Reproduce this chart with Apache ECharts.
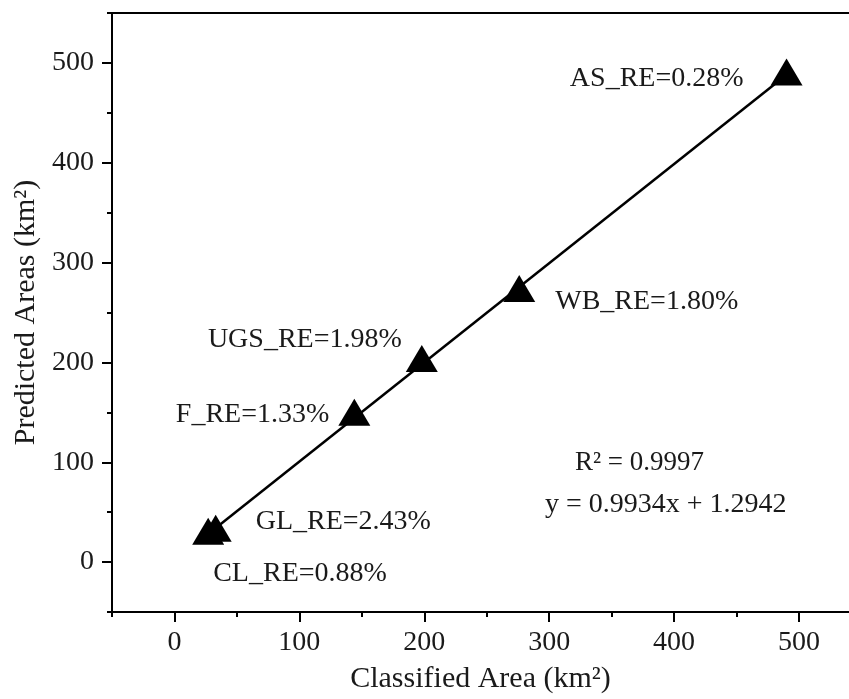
<!DOCTYPE html>
<html>
<head>
<meta charset="utf-8">
<script src="https://cdn.jsdelivr.net/npm/echarts@6/dist/echarts.min.js"></script>
<style>html,body{margin:0;padding:0;background:#fff}#c{width:849px;height:699px}</style>
</head>
<body>
<div id="c"></div>
<script>
// Data
const classes = ['CL', 'GL', 'F', 'UGS', 'WB', 'AS'];
const classified = [27, 33, 144, 198, 276, 490];
const predicted = [31, 34, 150, 204, 274, 491];
const reLabels = ['CL_RE=0.88%', 'GL_RE=2.43%', 'F_RE=1.33%', 'UGS_RE=1.98%', 'WB_RE=1.80%', 'AS_RE=0.28%'];
const fitX = [30, 490];
const fitY = [31.1, 488.1];
const majorTicks = [0, 100, 200, 300, 400, 500];
const xMinorTicks = [-50, 50, 150, 250, 350, 450];
const yMinorTicks = [-50, 50, 150, 250, 350, 450, 550];

// label placement styles (pixel offsets)
const labelStyle = {
  CL: {align: 'left', offset: [5, 43]},
  GL: {align: 'left', offset: [40, -6]},
  F: {align: 'right', offset: [-25, 2]},
  UGS: {align: 'right', offset: [-20, -19]},
  WB: {align: 'left', offset: [36, 13]},
  AS: {align: 'right', offset: [-43, 7]}
};

const FONT = '"Liberation Serif", "Times New Roman", serif';
const TXT = '#1a1a1a';
const chart = echarts.init(document.getElementById('c'), null, {renderer: 'canvas'});

const pts = classes.map((c, i) => ({
  name: c,
  value: [classified[i], predicted[i]],
  label: {
    show: true,
    position: 'inside',
    formatter: reLabels[i],
    align: labelStyle[c].align,
    verticalAlign: 'middle',
    offset: labelStyle[c].offset,
    color: TXT,
    fontFamily: FONT,
    fontSize: 28
  }
}));

function mainAxis(extra) {
  return Object.assign({
    type: 'value', min: -50,
    axisLine: {show: true, onZero: false, lineStyle: {color: '#000', width: 2}},
    axisTick: {show: true, length: 10, customValues: majorTicks, lineStyle: {color: '#000', width: 2}},
    splitLine: {show: false},
    nameLocation: 'middle',
    nameTextStyle: {color: TXT, fontFamily: FONT, fontSize: 30}
  }, extra);
}
function minorAxis(extra, minors) {
  return Object.assign({
    type: 'value', min: -50,
    axisLine: {show: false, onZero: false},
    axisTick: {show: true, length: 5, customValues: minors, lineStyle: {color: '#000', width: 2}},
    axisLabel: {show: false},
    splitLine: {show: false}
  }, extra);
}

chart.setOption({
  animation: false,
  backgroundColor: '#fff',
  grid: {left: 112, top: 13, bottom: 87, right: 0, containLabel: false},
  xAxis: [
    mainAxis({
      position: 'bottom', max: 540,
      name: 'Classified Area (km²)',
      nameGap: 52,
      axisLabel: {customValues: majorTicks, color: TXT, fontFamily: FONT, fontSize: 28, margin: 17}
    }),
    minorAxis({position: 'bottom', max: 540}, xMinorTicks),
    {
      type: 'value', position: 'top', min: -50, max: 540,
      axisLine: {show: true, onZero: false, lineStyle: {color: '#000', width: 2}},
      axisTick: {show: false}, axisLabel: {show: false}, splitLine: {show: false}
    }
  ],
  yAxis: [
    mainAxis({
      position: 'left', max: 550,
      name: 'Predicted Areas (km²)',
      nameGap: 71,
      axisLabel: {customValues: majorTicks, color: TXT, fontFamily: FONT, fontSize: 28, margin: 18}
    }),
    minorAxis({position: 'left', max: 550}, yMinorTicks)
  ],
  graphic: [
    {type: 'text', left: 575, top: 449, style: {text: 'R² = 0.9997', fill: TXT, font: '27px ' + FONT}},
    {type: 'text', left: 545, top: 491, style: {text: 'y = 0.9934x + 1.2942', fill: TXT, font: '28px ' + FONT}}
  ],
  series: [
    {
      type: 'line',
      data: fitX.map((x, i) => [x, fitY[i]]),
      symbol: 'none',
      lineStyle: {color: '#000', width: 2.5},
      z: 2
    },
    {
      type: 'scatter',
      data: pts,
      symbol: 'triangle',
      symbolSize: [32, 27],
      itemStyle: {color: '#000', opacity: 1},
      z: 3
    }
  ]
});
</script>
</body>
</html>
